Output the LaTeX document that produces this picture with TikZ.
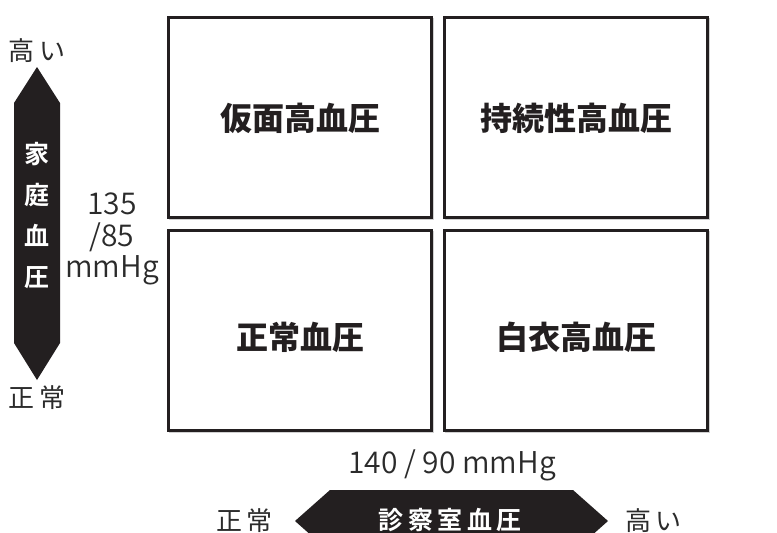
\documentclass[tikz,border=0pt]{standalone}
\usepackage{fontspec}
\newfontfamily\cjk{Noto Sans CJK JP}[BoldFont={Noto Sans CJK JP Bold}]
\newfontfamily\cjklight{Noto Sans CJK JP DemiLight}
\newfontfamily\cjkblack{Noto Sans CJK JP Black}
\definecolor{ink}{HTML}{231F20}
\definecolor{inklight}{HTML}{2B2B2B}
\begin{document}
\begin{tikzpicture}[x=1pt,y=-1pt,
  quad/.style={draw=ink,line width=2.8pt,minimum width=263pt,minimum height=200pt,inner sep=0pt,fill=white},
  shadowq/.style={fill=black!18,minimum width=265pt,minimum height=202pt,inner sep=0pt},
  quadtext/.style={font={\cjkblack\fontsize{32}{38}\selectfont},text=ink},
  endlabel/.style={font={\cjk\fontsize{26}{30}\selectfont},text=inklight},
  numlabel/.style={font={\cjklight\fontsize{30}{33}\selectfont},text=inklight,align=center},
  axisfill/.style={fill=ink},
  axistext/.style={font={\cjk\bfseries\fontsize{25}{41}\selectfont},text=white,align=center}]
\useasboundingbox[fill=white] (0,0) rectangle (777,533);
% shadows
\node[shadowq] at (301.5,119) {};
\node[shadowq] at (577.5,119) {};
\node[shadowq] at (301.5,332) {};
\node[shadowq] at (577.5,332) {};
% boxes
\node[quad] (tl) at (300,117.5) {};
\node[quad] (tr) at (576,117.5) {};
\node[quad] (bl) at (300,330.5) {};
\node[quad] (br) at (576,330.5) {};
\node[quadtext] (tlt) at ([yshift=-0.5pt]tl.center) {仮面高血圧};
\node[quadtext] (trt) at ([yshift=-0.5pt]tr.center) {持続性高血圧};
\node[quadtext] (blt) at ([yshift=-6.5pt]bl.center) {正常血圧};
\node[quadtext] (brt) at ([yshift=-6.5pt]br.center) {白衣高血圧};
% vertical axis arrow
\fill[axisfill] (37,67) -- (60,103) -- (60,343) -- (37,380) -- (14,343) -- (14,103) -- cycle;
\node[axistext] (vax) at (37,216) {家\\庭\\血\\圧};
\node[endlabel] (vhigh) at (37,51) {高\hspace{5pt}い};
\node[endlabel] (vlow) at (37,398) {正\hspace{5pt}常};
\node[numlabel] (vnum) at (112,239) {135\\[-1.5pt]/85\\[-1.5pt]mmHg};
% horizontal axis arrow
\fill[axisfill] (295,521) -- (330,490) -- (573,490) -- (608,521) -- (594.5,533) -- (308.5,533) -- cycle;
\node[font={\cjk\bfseries\fontsize{25}{28}\selectfont},text=white] (hax) at (450,520) {診\hspace{4.5pt}察\hspace{4.5pt}室\hspace{4.5pt}血\hspace{4.5pt}圧};
\node[endlabel] (hlow) at (244.5,521) {正\hspace{5pt}常};
\node[endlabel] (hhigh) at (653.5,521) {高\hspace{5pt}い};
\node[numlabel] (hnum) at (452,465) {140 / 90 mmHg};
\end{tikzpicture}
\end{document}
